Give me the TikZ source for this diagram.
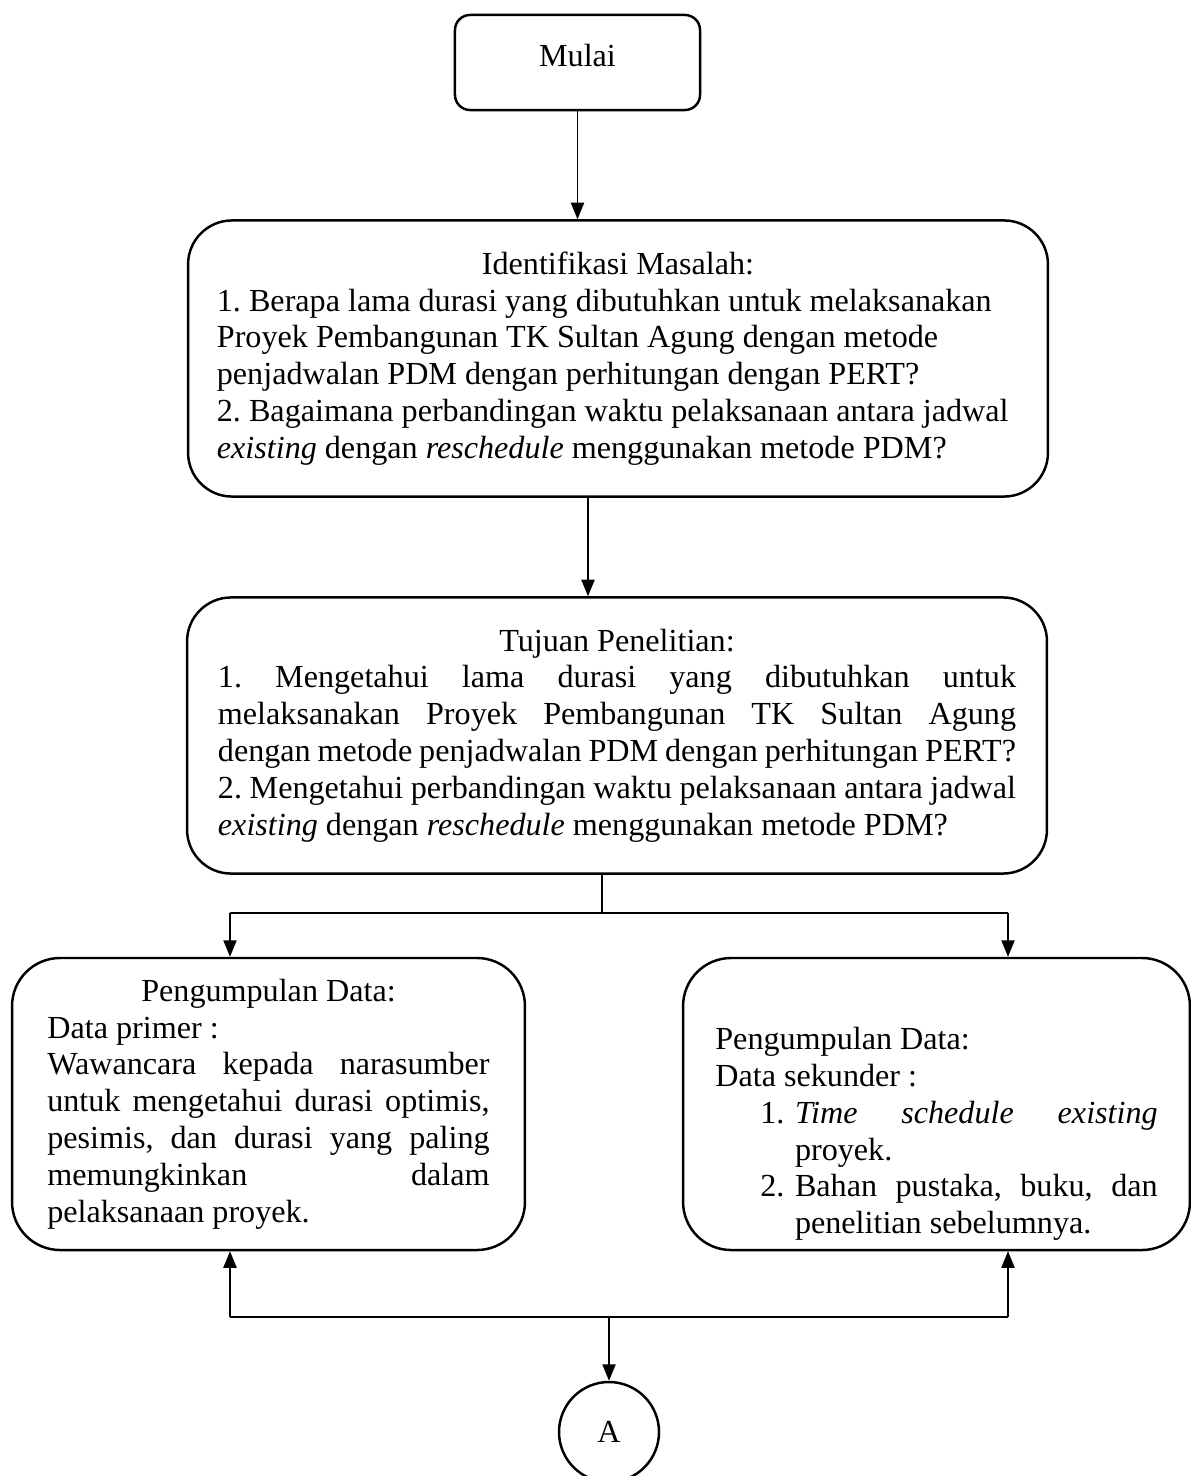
\documentclass[tikz,border=0pt]{standalone}
\usepackage{fontspec}
\setmainfont{Liberation Serif}
\usetikzlibrary{arrows.meta}
\frenchspacing
\hyphenpenalty=10000

\begin{document}
\begin{tikzpicture}
        [x=0.364pt,y=-0.364pt,font=\fontsize{11.7}{13.4}\selectfont,
         kotak/.style={draw,line width=0.9pt,rounded corners=16pt,inner sep=0pt,
           minimum width=313pt,minimum height=100.5pt,align=justify},
         data/.style={draw,line width=0.9pt,rounded corners=17.5pt,inner sep=0pt,
           minimum height=106.3pt,text width=161pt,align=justify},
         arr/.style={-{Triangle[length=6pt,width=4.8pt]},line width=0.55pt}]

        \useasboundingbox (0,0) rectangle (1190,1476);

        \node[draw,line width=0.9pt,rounded corners=5.5pt,minimum width=89.2pt,
          minimum height=34.6pt,text depth=5.4pt] (mulai) at (577.5,62.5) {Mulai};

        \node[kotak,text width=292pt] (identifikasi) at (618,358.5)
          {\makebox[\linewidth]{Identifikasi Masalah:}\\
          1. Berapa lama durasi yang dibutuhkan untuk melaksanakan\\
          Proyek Pembangunan TK Sultan Agung dengan metode\\
          penjadwalan PDM dengan perhitungan dengan PERT?\\
          2. Bagaimana perbandingan waktu pelaksanaan antara jadwal\\
          \textit{existing} dengan \textit{reschedule} menggunakan metode PDM?};

        \node[kotak,text width=290.5pt] (tujuan) at (617,735.5)
          {\makebox[\linewidth]{Tujuan Penelitian:}\\
          1. Mengetahui lama durasi yang dibutuhkan untuk\linebreak
          melaksanakan Proyek Pembangunan TK Sultan Agung\linebreak
          dengan metode penjadwalan PDM dengan perhitungan PERT?\linebreak
          2. Mengetahui perbandingan waktu pelaksanaan antara jadwal\linebreak
          \textit{existing} dengan \textit{reschedule} menggunakan metode PDM?};

        \node[data,minimum width=186.7pt] (primer) at (268.5,1104)
          {\makebox[\linewidth]{Pengumpulan Data:}\\
          Data primer :\\
          Wawancara kepada narasumber\linebreak
          untuk mengetahui durasi optimis,\linebreak
          pesimis, dan durasi yang paling\linebreak
          memungkinkan dalam\linebreak
          pelaksanaan proyek.};

        \node[data,minimum width=184.5pt] (sekunder) at (936.5,1104)
          {\rule{0pt}{30pt}Pengumpulan Data:\\
          Data sekunder :\par
          \hangindent=29pt\hangafter=1\noindent\hspace*{16.4pt}\makebox[12.6pt][l]{1.}%
          \textit{Time schedule existing}\linebreak proyek.\par
          \hangindent=29pt\hangafter=1\noindent\hspace*{16.4pt}\makebox[12.6pt][l]{2.}%
          Bahan pustaka, buku, dan\linebreak penelitian sebelumnya.\par};

        \node[draw,circle,line width=0.9pt,inner sep=0pt,minimum size=36.4pt] (hubung) at (609,1432) {A};

        \coordinate (cabang) at (602,913);
        \coordinate (cabangkiri) at (230,913);
        \coordinate (cabangkanan) at (1008,913);
        \coordinate (gabung) at (609,1317);
        \coordinate (gabungkiri) at (230,1317);
        \coordinate (gabungkanan) at (1008,1317);

        \draw[arr] (mulai.south) -- (mulai.south |- identifikasi.north);
        \draw[arr] (identifikasi.south -| 588,0) -- (tujuan.north -| 588,0);
        \draw[line width=0.55pt] (tujuan.south -| cabang) -- (cabang);
        \draw[line width=0.55pt] (cabangkiri) -- (cabangkanan);
        \draw[arr] (cabangkiri) -- (cabangkiri |- primer.north);
        \draw[arr] (cabangkanan) -- (cabangkanan |- sekunder.north);
        \draw[line width=0.55pt] (gabungkiri) -- (gabungkanan);
        \draw[arr] (gabungkiri) -- (gabungkiri |- primer.south);
        \draw[arr] (gabungkanan) -- (gabungkanan |- sekunder.south);
        \draw[arr] (gabung) -- (hubung.north);
      \end{tikzpicture}
\end{document}
